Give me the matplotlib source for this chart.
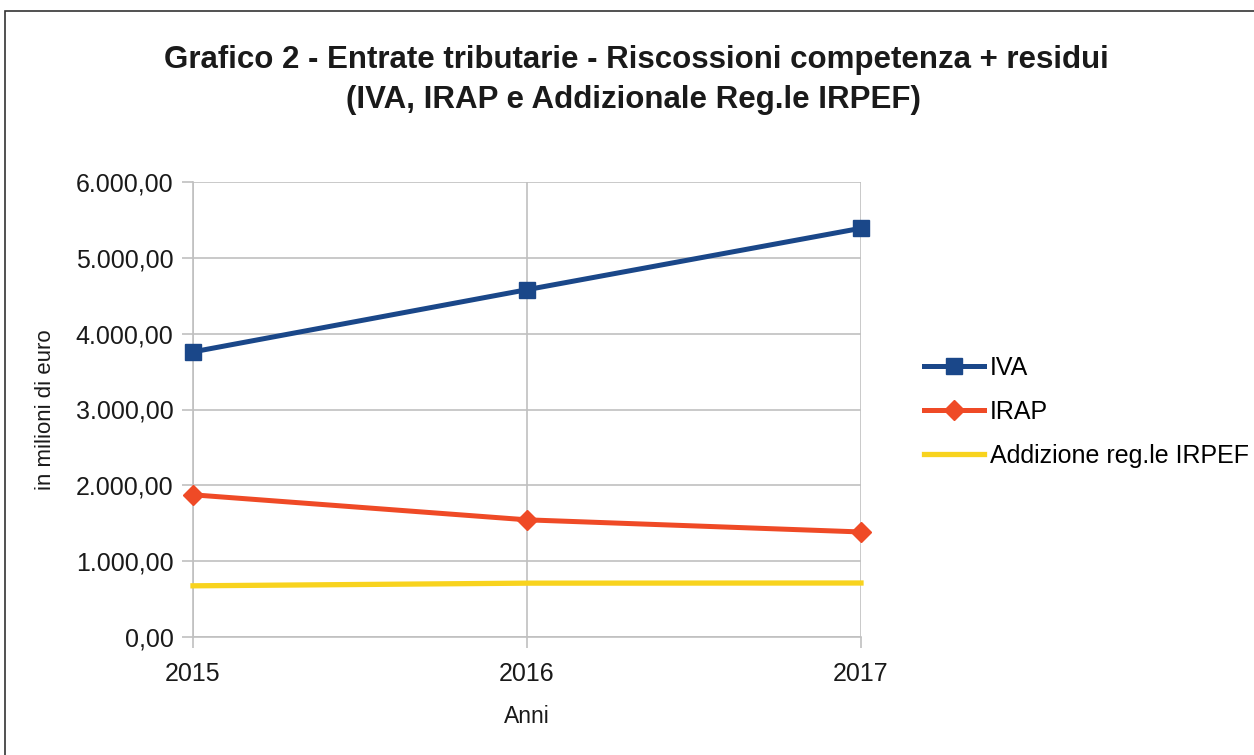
import numpy as np
import matplotlib.pyplot as plt
from matplotlib.ticker import FuncFormatter
from matplotlib.patches import Rectangle

plt.rcParams['font.family'] = ['Liberation Sans', 'DejaVu Sans']

anni = [2015, 2016, 2017]
iva = [3760, 4580, 5390]
irap = [1875, 1545, 1385]
addiz = [675, 710, 712]

def fmt(v, pos):
    s = "{:,.2f}".format(v)
    return s.replace(",", "X").replace(".", ",").replace("X", ".")

fig = plt.figure(figsize=(12.54, 7.55), dpi=100)
ax = fig.add_axes([193/1254, 1-637/755, (861-193)/1254, (637-182)/755])

ax.plot(anni, iva, color="#1a4789", lw=3.6, marker="s", ms=12, clip_on=False, label="IVA", zorder=5)
ax.plot(anni, irap, color="#ef4a26", lw=3.6, marker="D", ms=10, clip_on=False, label="IRAP", zorder=5)
ax.plot(anni, addiz, color="#f8d31e", lw=3.8, clip_on=False, label="Addizione reg.le IRPEF", zorder=4)

ax.set_xlim(2015, 2017)
ax.set_ylim(0, 6000)
ax.set_xticks(anni)
ax.set_yticks(np.arange(0, 6001, 1000))
ax.yaxis.set_major_formatter(FuncFormatter(fmt))
ax.tick_params(labelsize=18, colors="#c0c0c0", labelcolor="#1a1a1a", length=8, width=1.2)
ax.tick_params(axis="x", pad=10)
ax.tick_params(axis="y", pad=6)
ax.grid(True, color="#c0c0c0", lw=1.2)
for s in ["top", "right"]:
    ax.spines[s].set_visible(False)
for s in ["left", "bottom"]:
    ax.spines[s].set_color("#c0c0c0")
    ax.spines[s].set_linewidth(1.2)
ax.set_axisbelow(True)

ax.set_xlabel("Anni", fontsize=16.5, color="#1a1a1a", labelpad=14)
ax.set_ylabel("in milioni di euro", fontsize=16, color="#1a1a1a", labelpad=14)

fig.text(636/1254, 1-60/755, "Grafico 2 - Entrate tributarie - Riscossioni competenza + residui",
         ha="center", va="center", fontsize=22.5, fontweight="bold", color="#1a1a1a")
fig.text(633/1254, 1-100/755, "(IVA, IRAP e Addizionale Reg.le IRPEF)",
         ha="center", va="center", fontsize=22.5, fontweight="bold", color="#1a1a1a")

fig.legend(loc="center left", bbox_to_anchor=(924/1254, 1-412/755), frameon=False,
           fontsize=18, handlelength=2.4, handletextpad=0.22, labelspacing=0.8,
           borderaxespad=0, borderpad=0)

fig.patches.append(Rectangle((5/1254, -0.05), 1.1, 1.05 - 11/755, transform=fig.transFigure,
                             fill=False, edgecolor="#333333", lw=1.2))

fig.savefig("out.png", dpi=100)
